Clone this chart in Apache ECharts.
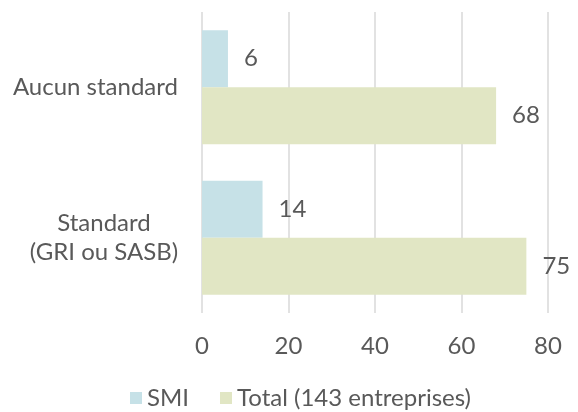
<!DOCTYPE html>
<html>
<head>
<meta charset="utf-8">
<script src="https://cdn.jsdelivr.net/npm/echarts@6/dist/echarts.min.js"></script>
<style>
  html, body { margin: 0; padding: 0; background: #fff; }
  #main { width: 578px; height: 412px; }
</style>
</head>
<body>
<div id="main"></div>
<script>
  var categories = ['Aucun standard', 'Standard\n(GRI ou SASB)'];
  var seriesNames = ['SMI', 'Total (143 entreprises)'];
  var smiValues = [6, 14];
  var totalValues = [68, 75];
  var xTicks = [0, 20, 40, 60, 80];

  var textColor = '#595959';
  var font = 'Lato';
  var fs = 24;

  var myChart = echarts.init(document.getElementById('main'));

  var option = {
    animation: false,
    textStyle: { fontFamily: font },
    legend: {
      data: seriesNames,
      top: 381,
      left: 125,
      itemWidth: 12,
      itemHeight: 12,
      itemGap: 31,
      icon: 'rect',
      textStyle: { color: textColor, fontSize: fs, fontFamily: font }
    },
    grid: { left: 202, right: 30, top: 12, bottom: 99, containLabel: false },
    xAxis: {
      type: 'value',
      min: xTicks[0],
      max: xTicks[xTicks.length - 1],
      interval: 20,
      axisLine: { show: false },
      axisTick: { show: false },
      splitLine: { lineStyle: { color: '#d9d9d9', width: 1.5 } },
      axisLabel: { color: textColor, fontSize: fs, fontFamily: font, margin: 21 }
    },
    yAxis: {
      type: 'category',
      inverse: true,
      data: categories,
      axisLine: { show: false },
      axisTick: { show: false },
      axisLabel: {
        color: textColor,
        fontSize: fs,
        fontFamily: font,
        margin: 24,
        formatter: function (v) {
          if (v.indexOf('\n') < 0) return '{a|' + v + '}';
          return v.split('\n').map(function (s) { return '{b|' + s + '}'; }).join('\n');
        },
        rich: {
          a: { color: textColor, fontSize: fs, fontFamily: font },
          b: { color: textColor, fontSize: fs, fontFamily: font, width: 148, align: 'center', lineHeight: 29 }
        }
      }
    },
    series: [
      {
        name: seriesNames[0],
        type: 'bar',
        data: smiValues,
        barWidth: 57,
        barGap: '0%',
        itemStyle: { color: '#c6e1e7' },
        label: { show: true, position: 'right', distance: 16, color: textColor, fontSize: fs, fontFamily: font }
      },
      {
        name: seriesNames[1],
        type: 'bar',
        data: totalValues,
        barWidth: 57,
        barGap: '0%',
        itemStyle: { color: '#e1e6c4' },
        label: { show: true, position: 'right', distance: 16, color: textColor, fontSize: fs, fontFamily: font }
      }
    ]
  };

  myChart.setOption(option);
</script>
</body>
</html>
